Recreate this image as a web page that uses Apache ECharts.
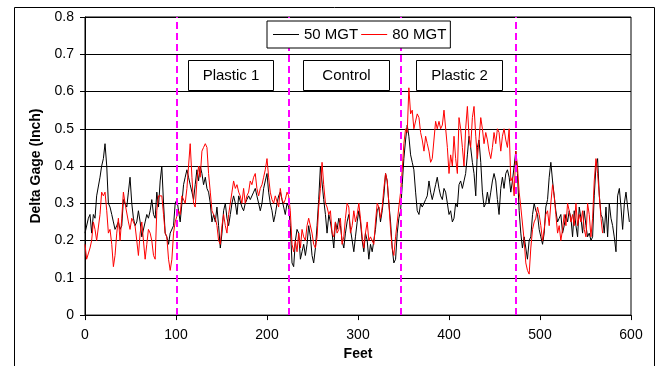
<!DOCTYPE html>
<html><head><meta charset="utf-8">
<script src="https://cdn.jsdelivr.net/npm/echarts@6/dist/echarts.min.js"></script>
<style>html,body{margin:0;padding:0;background:#fff}#c{width:657px;height:366px}</style>
</head><body><div id="c"></div>
<script>
// Distance along track (feet) for each reading
const feet = [
0.0,1.8,3.7,5.5,7.3,9.2,11.0,12.8,14.7,16.5,18.3,20.2,22.0,23.9,25.7,27.5,29.4,31.2,33.0,34.9,36.7,38.5,40.4,42.2,44.0,45.9,47.7,49.5,51.4,53.2,55.0,56.9,58.7,60.6,62.4,64.2,66.1,67.9,69.7,
71.6,73.4,75.3,77.1,78.9,80.8,82.6,84.4,86.3,88.1,89.9,91.8,93.6,95.5,97.3,99.1,101.0,102.8,104.6,106.5,108.3,110.1,112.0,113.8,115.6,117.5,119.3,121.1,123.0,124.8,126.6,128.5,130.3,132.2,134.0,135.8,137.7,139.5,141.3,143.2,145.0,146.8,148.7,150.5,152.3,154.2,156.0,157.8,159.7,161.5,163.3,165.2,167.0,168.9,
170.6,172.4,174.3,176.1,177.9,179.8,181.6,183.4,185.3,187.1,188.9,190.8,192.6,194.5,196.3,198.1,200.0,201.8,203.6,205.5,207.3,209.1,211.0,212.8,214.6,216.5,218.3,220.1,222.0,223.8,225.6,227.5,229.3,231.2,233.0,234.8,236.7,238.5,240.3,242.2,244.0,245.8,247.7,249.5,251.3,253.2,255.0,256.8,258.7,260.5,262.3,264.2,266.0,267.9,
269.7,271.5,273.4,275.2,277.0,278.9,280.7,282.5,284.4,286.2,288.0,289.9,291.7,293.6,295.4,297.2,299.1,300.9,302.7,304.6,306.4,308.2,310.1,311.9,313.7,315.6,317.4,319.2,321.1,322.9,324.7,326.6,328.4,330.3,332.1,333.9,335.8,337.6,339.4,341.3,343.1,344.9,346.8,348.6,350.4,352.3,354.1,355.9,357.8,359.6,361.4,363.3,365.1,367.0,
368.8,370.6,372.5,374.3,376.1,378.0,379.8,381.6,383.5,385.3,387.1,389.0,390.8,392.7,394.5,396.3,398.2,400.0,401.8,403.7,405.5,407.3,409.2,411.0,412.8,414.7,416.5,418.3,420.2,422.0,423.8,425.7,427.5,429.4,431.2,433.0,434.9,436.7,438.5,440.4,442.2,444.0,445.9,447.7,449.5,451.4,453.2,455.0,456.9,458.7,460.5,462.4,464.2,466.1,
467.9,469.7,471.6,473.4,475.2,477.1,478.9,480.7,482.6,484.4,486.2,488.1,489.9,491.8,493.6,495.4,497.3,499.1,500.9,502.8,504.6,506.4,508.3,510.1,511.9,513.8,515.6,517.4,519.3,521.1,522.9,524.8,526.6,528.5,530.3,532.1,534.0,535.8,537.6,539.5,541.3,543.1,545.0,546.8,548.6,550.5,552.3,554.1,556.0,557.8,559.6,561.5,563.3,565.2,
567.0,568.8,570.6,572.5,574.3,576.1,578.0,579.8,581.6,583.5,585.3,587.2,589.0,590.8,592.7,594.5,596.3,598.2
];
// 50 MGT (black)
const gage50 = [
0.22,0.22,0.26,0.27,0.22,0.27,0.26,0.32,0.32,0.37,0.40,0.42,0.46,0.40,0.30,0.29,0.27,0.25,0.23,0.24,0.25,0.23,0.24,0.31,0.30,0.29,0.33,0.37,0.30,0.26,0.24,0.25,0.28,0.25,0.21,0.21,0.25,0.27,0.26,
0.28,0.31,0.27,0.26,0.33,0.29,0.36,0.40,0.30,0.22,0.21,0.19,0.22,0.22,0.24,0.30,0.31,0.28,0.25,0.30,0.35,0.37,0.39,0.37,0.35,0.33,0.31,0.35,0.39,0.36,0.40,0.38,0.35,0.37,0.34,0.33,0.30,0.25,0.27,0.25,0.29,0.24,0.18,0.22,0.28,0.30,0.26,0.24,0.27,0.30,0.32,0.30,0.27,0.32,
0.32,0.29,0.28,0.30,0.31,0.32,0.31,0.31,0.33,0.34,0.32,0.30,0.28,0.30,0.34,0.36,0.38,0.33,0.30,0.28,0.25,0.27,0.30,0.32,0.33,0.31,0.29,0.27,0.30,0.29,0.24,0.14,0.13,0.20,0.23,0.22,0.15,0.17,0.19,0.16,0.19,0.24,0.21,0.16,0.14,0.18,0.24,0.31,0.40,0.40,0.31,0.27,0.22,0.27,
0.25,0.22,0.18,0.25,0.23,0.26,0.24,0.20,0.18,0.22,0.25,0.27,0.23,0.20,0.17,0.21,0.25,0.28,0.25,0.20,0.17,0.22,0.20,0.15,0.19,0.17,0.20,0.23,0.28,0.29,0.25,0.28,0.32,0.38,0.36,0.30,0.25,0.18,0.14,0.15,0.22,0.26,0.28,0.35,0.42,0.47,0.51,0.48,0.43,0.41,0.39,0.33,0.28,0.27,
0.30,0.29,0.30,0.31,0.32,0.36,0.33,0.31,0.33,0.35,0.37,0.34,0.32,0.31,0.34,0.33,0.30,0.27,0.28,0.25,0.26,0.30,0.29,0.35,0.36,0.34,0.36,0.38,0.43,0.48,0.45,0.41,0.38,0.32,0.45,0.47,0.41,0.33,0.29,0.30,0.33,0.30,0.33,0.36,0.38,0.36,0.31,0.27,0.34,0.37,0.34,0.38,0.39,0.37,
0.33,0.36,0.40,0.44,0.38,0.28,0.22,0.18,0.21,0.18,0.15,0.20,0.21,0.27,0.30,0.28,0.27,0.23,0.21,0.19,0.22,0.29,0.31,0.37,0.41,0.36,0.32,0.28,0.25,0.26,0.27,0.22,0.24,0.27,0.25,0.28,0.26,0.21,0.28,0.24,0.21,0.29,0.26,0.22,0.28,0.24,0.21,0.22,0.20,0.21,0.32,0.40,0.42,0.32,
0.27,0.26,0.22,0.29,0.21,0.30,0.26,0.24,0.21,0.17,0.32,0.34,0.29,0.23,0.30,0.33,0.29,0.25
];
// 80 MGT (red)
const gage80 = [
0.19,0.15,0.15,0.18,0.20,0.25,0.23,0.20,0.20,0.27,0.33,0.32,0.33,0.28,0.22,0.23,0.19,0.13,0.16,0.22,0.26,0.20,0.26,0.33,0.30,0.30,0.25,0.23,0.26,0.26,0.24,0.20,0.16,0.22,0.25,0.20,0.15,0.19,0.23,
0.22,0.20,0.16,0.15,0.28,0.32,0.32,0.32,0.27,0.22,0.21,0.15,0.12,0.15,0.22,0.25,0.25,0.28,0.27,0.32,0.32,0.30,0.34,0.40,0.46,0.37,0.30,0.29,0.36,0.40,0.37,0.44,0.45,0.46,0.45,0.38,0.33,0.28,0.27,0.26,0.24,0.20,0.19,0.24,0.27,0.24,0.22,0.27,0.30,0.33,0.36,0.34,0.35,0.33,
0.32,0.30,0.34,0.30,0.32,0.33,0.36,0.35,0.37,0.38,0.34,0.32,0.34,0.35,0.37,0.39,0.42,0.37,0.33,0.31,0.30,0.32,0.32,0.29,0.34,0.31,0.30,0.31,0.33,0.32,0.28,0.19,0.17,0.20,0.17,0.22,0.18,0.23,0.21,0.20,0.24,0.26,0.26,0.22,0.19,0.18,0.21,0.29,0.34,0.41,0.35,0.30,0.29,0.27,
0.28,0.22,0.21,0.25,0.22,0.23,0.26,0.19,0.21,0.26,0.30,0.29,0.22,0.24,0.28,0.25,0.27,0.30,0.26,0.21,0.18,0.22,0.25,0.20,0.21,0.21,0.19,0.25,0.30,0.29,0.26,0.29,0.34,0.38,0.36,0.30,0.23,0.18,0.16,0.21,0.25,0.29,0.33,0.39,0.46,0.50,0.49,0.61,0.54,0.55,0.50,0.50,0.54,0.53,
0.49,0.47,0.44,0.48,0.46,0.44,0.41,0.42,0.42,0.52,0.50,0.52,0.50,0.51,0.55,0.55,0.45,0.38,0.43,0.40,0.48,0.42,0.38,0.53,0.50,0.45,0.40,0.50,0.56,0.48,0.45,0.53,0.56,0.48,0.42,0.47,0.53,0.50,0.46,0.49,0.47,0.44,0.42,0.45,0.49,0.46,0.50,0.49,0.44,0.48,0.50,0.47,0.45,0.50,
0.36,0.37,0.32,0.44,0.40,0.33,0.29,0.29,0.20,0.14,0.12,0.11,0.18,0.23,0.25,0.26,0.29,0.27,0.24,0.20,0.23,0.27,0.28,0.24,0.30,0.35,0.32,0.27,0.22,0.24,0.20,0.23,0.27,0.24,0.30,0.28,0.25,0.27,0.24,0.30,0.24,0.27,0.25,0.28,0.23,0.21,0.30,0.27,0.21,0.26,0.36,0.42,0.38,0.32,
0.26,0.22
];
const seriesNames = ['50 MGT', '80 MGT'];
const sectionLines = [101, 224, 347, 473];
const sectionLabels = ['Plastic 1', 'Control', 'Plastic 2'];
const xTicks = { min: 0, max: 600, step: 100 };
const yTicks = { min: 0, max: 0.8, step: 0.1 };
const xTitle = 'Feet';
const yTitle = 'Delta Gage (Inch)';

const FONT = 'Liberation Sans, Arial, sans-serif';
const chart = echarts.init(document.getElementById('c'), null, { renderer: 'canvas' });

const boxes = [
  { x: 188, y: 60, w: 85, h: 30 },
  { x: 303, y: 60, w: 86, h: 30 },
  { x: 416, y: 60, w: 86, h: 30 }
];
const graphics = [{
  type: 'rect', left: 12, top: 5, silent: true, z: 0,
  shape: { width: 640, height: 372 },
  style: { fill: 'none', stroke: '#000', lineWidth: 1 }
}];
sectionLabels.forEach((t, i) => {
  const b = boxes[i];
  graphics.push({
    type: 'group', left: b.x, top: b.y, z: 100,
    children: [
      { type: 'rect', shape: { x: 0, y: 0, width: b.w, height: b.h }, style: { fill: '#fff', stroke: '#000', lineWidth: 1 } },
      { type: 'text', x: b.w / 2, y: b.h / 2, style: { text: t, fill: '#000', font: '15px ' + FONT, textAlign: 'center', textVerticalAlign: 'middle' } }
    ]
  });
});

chart.setOption({
  animation: false,
  backgroundColor: '#fff',
  textStyle: { fontFamily: FONT },
  grid: { left: 85, right: 26, top: 17, bottom: 48, show: true, borderColor: '#000', borderWidth: 1, backgroundColor: 'transparent' },
  legend: {
    data: seriesNames, left: 267, top: 21, orient: 'horizontal',
    icon: 'rect', itemWidth: 26, itemHeight: 1, itemGap: 3,
    padding: [6, 4, 6, 6], borderColor: '#000', borderWidth: 1, backgroundColor: '#fff',
    textStyle: { fontSize: 15, color: '#000', fontFamily: FONT }, z: 50
  },
  xAxis: {
    type: 'value', min: xTicks.min, max: xTicks.max, interval: xTicks.step,
    name: xTitle, nameLocation: 'middle', nameGap: 29,
    nameTextStyle: { fontSize: 14, fontWeight: 'bold', color: '#000', fontFamily: FONT },
    axisLine: { show: true, lineStyle: { color: '#000', width: 1 } },
    axisTick: { show: true, length: 5, lineStyle: { color: '#000' } },
    axisLabel: { fontSize: 14, color: '#000', margin: 13, fontFamily: FONT },
    splitLine: { show: false }
  },
  yAxis: {
    type: 'value', min: yTicks.min, max: yTicks.max, interval: yTicks.step,
    name: yTitle, nameLocation: 'middle', nameGap: 42,
    nameTextStyle: { fontSize: 14, fontWeight: 'bold', color: '#000', fontFamily: FONT },
    axisLine: { show: true, lineStyle: { color: '#000', width: 1 } },
    axisTick: { show: true, length: 5, lineStyle: { color: '#000' } },
    axisLabel: { fontSize: 14, color: '#000', margin: 11, fontFamily: FONT },
    splitLine: { show: true, lineStyle: { color: '#000', width: 1 } }
  },
  graphic: graphics,
  series: [
    {
      name: seriesNames[0], type: 'line', symbol: 'none', z: 2,
      data: feet.map((f, i) => [f, gage50[i]]),
      lineStyle: { color: '#000', width: 1 }, itemStyle: { color: '#000' }
    },
    {
      name: seriesNames[1], type: 'line', symbol: 'none', z: 3,
      data: gage80.map((v, i) => [feet[i], v]),
      lineStyle: { color: '#ff0000', width: 1 }, itemStyle: { color: '#ff0000' }
    },
    {
      type: 'line', data: [], z: 10, silent: true,
      markLine: {
        silent: true, symbol: 'none', animation: false,
        lineStyle: { color: '#ff00ff', width: 2, type: [7, 4] },
        label: { show: false },
        data: sectionLines.map(v => ({ xAxis: v }))
      }
    }
  ]
});
</script></body></html>
